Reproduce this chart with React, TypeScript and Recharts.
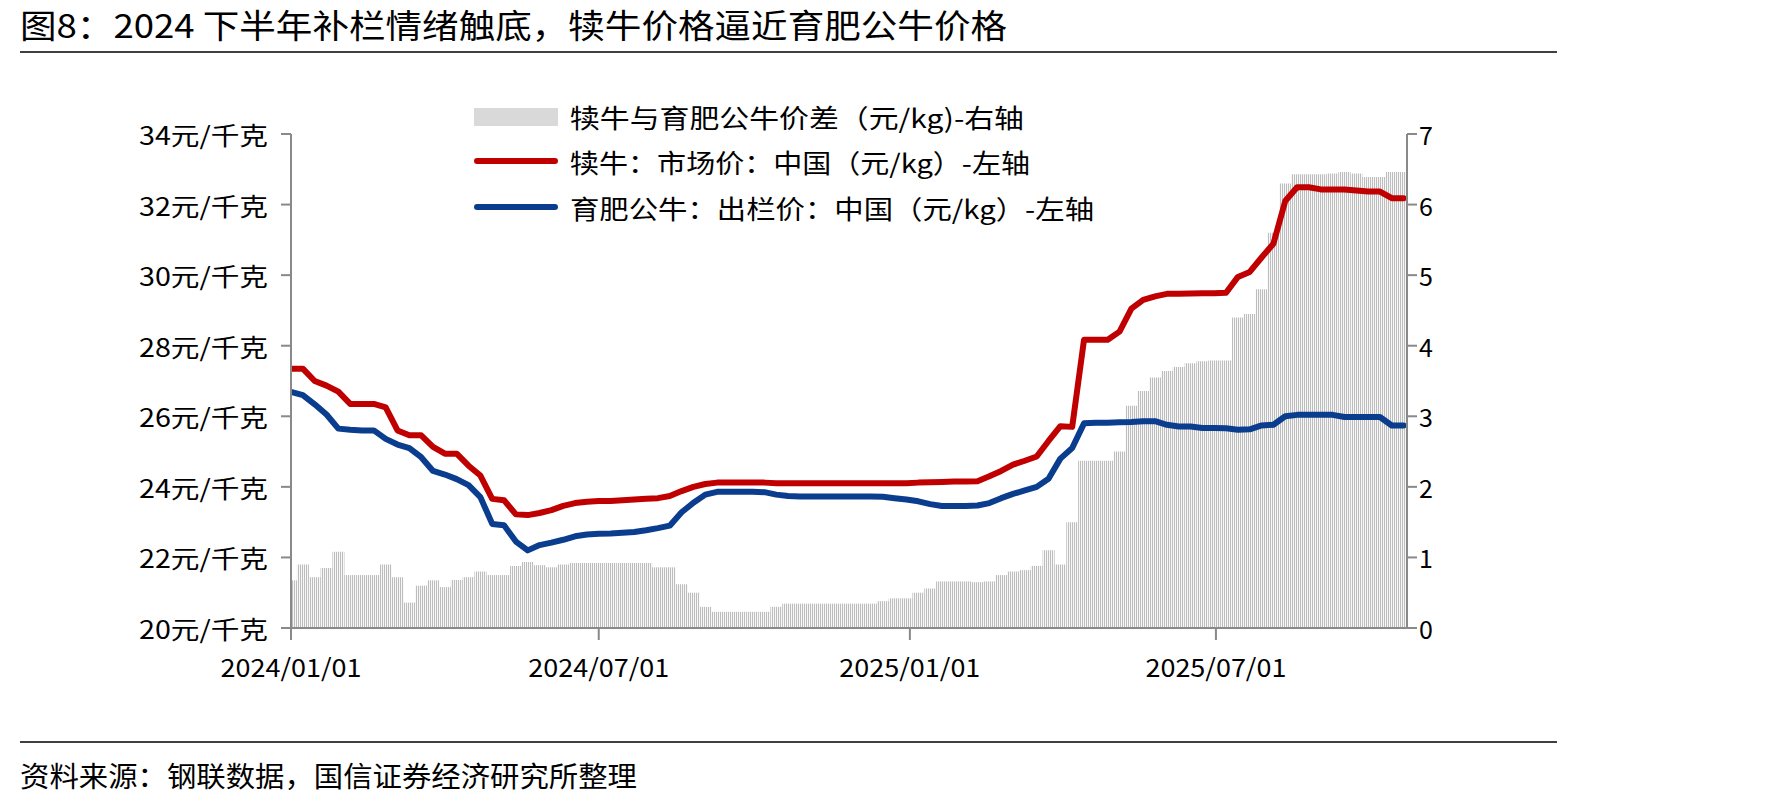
import React from 'react';
import { ComposedChart, Bar, Line, XAxis, YAxis } from 'recharts';

// ---- data (weekly readings, day offset from 2024/01/01) ----
const weekIndex: number[] = Array.from({ length: 95 }, (_, i) => i);
const dayOffsets: number[] = weekIndex.map((i) => i * 7);

const calfPrice: number[] = [
  27.35, 27.35, 27.0, 26.87, 26.7, 26.35, 26.35, 26.35, 26.25, 25.6,
  25.46, 25.46, 25.13, 24.94, 24.94, 24.6, 24.32, 23.66, 23.62, 23.22,
  23.2, 23.26, 23.34, 23.46, 23.54, 23.58, 23.6, 23.6, 23.62, 23.64,
  23.66, 23.68, 23.74, 23.88, 24.0, 24.08, 24.12, 24.12, 24.12, 24.12,
  24.12, 24.1, 24.1, 24.1, 24.1, 24.1, 24.1, 24.1, 24.1, 24.1,
  24.1, 24.1, 24.1, 24.12, 24.13, 24.14, 24.15, 24.15, 24.16, 24.3,
  24.45, 24.63, 24.74, 24.86, 25.3, 25.72, 25.7, 28.17, 28.17, 28.17,
  28.4, 29.05, 29.3, 29.4, 29.47, 29.47, 29.48, 29.49, 29.49, 29.5,
  29.95, 30.09, 30.5, 30.89, 32.1, 32.49, 32.49, 32.43, 32.43, 32.43,
  32.4, 32.37, 32.37, 32.18, 32.18,
];

const bullPrice: number[] = [
  26.69, 26.6, 26.34, 26.05, 25.65, 25.62, 25.6, 25.6, 25.36, 25.2,
  25.1, 24.84, 24.45, 24.35, 24.22, 24.05, 23.71, 22.95, 22.91, 22.45,
  22.2, 22.35, 22.42, 22.5, 22.6, 22.65, 22.67, 22.68, 22.7, 22.72,
  22.77, 22.83, 22.9, 23.28, 23.55, 23.78, 23.86, 23.86, 23.86, 23.86,
  23.85, 23.78, 23.74, 23.73, 23.73, 23.73, 23.73, 23.73, 23.73, 23.73,
  23.72, 23.68, 23.64, 23.59, 23.51, 23.46, 23.46, 23.46, 23.47, 23.54,
  23.68, 23.8, 23.9, 24.0, 24.23, 24.8, 25.1, 25.8, 25.82, 25.82,
  25.83, 25.84, 25.86, 25.86, 25.76, 25.71, 25.71, 25.67, 25.67, 25.66,
  25.62, 25.63, 25.74, 25.76, 26.0, 26.04, 26.04, 26.04, 26.04, 25.98,
  25.98, 25.98, 25.98, 25.74, 25.74,
];

const priceGap: number[] = [
  0.675, 0.9, 0.72, 0.85, 1.08, 0.75, 0.75, 0.75, 0.9, 0.72,
  0.36, 0.6, 0.675, 0.58, 0.68, 0.72, 0.8, 0.75, 0.75, 0.88,
  0.935, 0.89, 0.86, 0.9, 0.92, 0.92, 0.92, 0.92, 0.92, 0.92,
  0.92, 0.86, 0.86, 0.62, 0.5, 0.3, 0.23, 0.23, 0.23, 0.23,
  0.23, 0.3, 0.345, 0.345, 0.345, 0.345, 0.345, 0.345, 0.345, 0.345,
  0.38, 0.42, 0.42, 0.5, 0.56, 0.66, 0.66, 0.66, 0.65, 0.66,
  0.75, 0.8, 0.82, 0.88, 1.1, 0.9, 1.5, 2.37, 2.37, 2.37,
  2.5, 3.15, 3.36, 3.55, 3.64, 3.7, 3.75, 3.78, 3.79, 3.79,
  4.4, 4.45, 4.8, 5.6, 6.3, 6.43, 6.43, 6.43, 6.44, 6.46,
  6.44, 6.39, 6.39, 6.46, 6.46,
];

const xTickDays: number[] = [0, 182, 366, 547];
const xTickLabels: string[] = ['2024/01/01', '2024/07/01', '2025/01/01', '2025/07/01'];
const leftTicks: number[] = [20, 22, 24, 26, 28, 30, 32, 34];
const rightTicks: number[] = [0, 1, 2, 3, 4, 5, 6, 7];

const titleText = '图8：2024 下半年补栏情绪触底，犊牛价格逼近育肥公牛价格';
const sourceText = '资料来源：钢联数据，国信证券经济研究所整理';
const legendGap = '犊牛与育肥公牛价差（元/kg)-右轴';
const legendCalf = '犊牛：市场价：中国（元/kg）-左轴';
const legendBull = '育肥公牛：出栏价：中国（元/kg）-左轴';

const data = dayOffsets.map((d, i) => ({
  day: d,
  gap: priceGap[i],
  calf: calfPrice[i],
  bull: bullPrice[i],
}));

// ---- layout ----
const W = 1771;
const H = 810;
const PLOT_LEFT = 291;
const PLOT_RIGHT = 1407;
const PLOT_TOP = 134;
const PLOT_BOTTOM = 628;
const FONT = '"Noto Sans CJK SC", "Noto Sans", sans-serif';
const AXIS = '#898989';
const RED = '#C00000';
const BLUE = '#0B3D8F';

const XTick = (props: any) => {
  const idx = xTickDays.indexOf(props.payload.value);
  const label = idx >= 0 ? xTickLabels[idx] : '';
  return (
    <text x={props.x} y={PLOT_BOTTOM + 38} textAnchor="middle" dominantBaseline="central"
      fontSize={25} fontFamily={FONT} fill="#000" textLength={141} lengthAdjust="spacingAndGlyphs">
      {label}
    </text>
  );
};

const LeftTick = (props: any) => (
  <text x={268} y={props.y} textAnchor="end" dominantBaseline="central"
    fontSize={25} fontFamily={FONT} fill="#000" textLength={129} lengthAdjust="spacingAndGlyphs">
    {`${props.payload.value}元/千克`}
  </text>
);

const RightTick = (props: any) => (
  <text x={1419} y={props.y} textAnchor="start" dominantBaseline="central"
    fontSize={25} fontFamily={FONT} fill="#000">
    {props.payload.value}
  </text>
);

export default function App() {
  return (
    <div style={{ position: 'absolute', left: 0, top: 0, width: W, height: H, background: '#fff', fontFamily: FONT }}>
      <div style={{ position: 'absolute', left: 0, top: 0 }}>
        <ComposedChart width={W} height={H} data={data} barCategoryGap={0} barGap={0}
          margin={{ top: PLOT_TOP, right: 0, bottom: 0, left: 0 }}>
          <defs>
            <pattern id="gapStripes" patternUnits="userSpaceOnUse" width="2" height="8">
              <rect x="0" y="0" width="1" height="8" fill="#bdbdbd" />
              <rect x="1" y="0" width="1" height="8" fill="#f7f7f7" />
            </pattern>
          </defs>
          <XAxis dataKey="day" type="number" domain={[0, 660]} ticks={xTickDays} interval={0}
            allowDataOverflow height={H - PLOT_BOTTOM} tickSize={12}
            axisLine={{ stroke: AXIS, strokeWidth: 2 }} tickLine={{ stroke: AXIS, strokeWidth: 2 }}
            tick={<XTick />} />
          <YAxis yAxisId="left" orientation="left" width={PLOT_LEFT} domain={[20, 34]} ticks={leftTicks}
            interval={0} allowDataOverflow tickSize={10}
            axisLine={{ stroke: AXIS, strokeWidth: 2 }} tickLine={{ stroke: AXIS, strokeWidth: 2 }}
            tick={<LeftTick />} />
          <YAxis yAxisId="right" orientation="right" width={W - PLOT_RIGHT} domain={[0, 7]} ticks={rightTicks}
            interval={0} allowDataOverflow tickSize={10}
            axisLine={{ stroke: AXIS, strokeWidth: 2 }} tickLine={{ stroke: AXIS, strokeWidth: 2 }}
            tick={<RightTick />} />
          <Bar yAxisId="right" dataKey="gap" fill="url(#gapStripes)" isAnimationActive={false} />
          <Line yAxisId="left" dataKey="calf" type="linear" stroke={RED} strokeWidth={6} dot={false}
            strokeLinejoin="round" strokeLinecap="round" isAnimationActive={false} />
          <Line yAxisId="left" dataKey="bull" type="linear" stroke={BLUE} strokeWidth={6} dot={false}
            strokeLinejoin="round" strokeLinecap="round" isAnimationActive={false} />
        </ComposedChart>
      </div>
      <svg width={W} height={H} style={{ position: 'absolute', left: 0, top: 0, pointerEvents: 'none' }}>
        <text x={20} y={24} dominantBaseline="central" fontSize={33} fontFamily={FONT} fill="#000"
          textLength={987} lengthAdjust="spacingAndGlyphs">{titleText}</text>
        <line x1={20} x2={1557} y1={52} y2={52} stroke="#000" strokeWidth={1.5} />
        <rect x={474} y={108} width={84} height={18} fill="#d9d9d9" />
        <text x={570} y={116} dominantBaseline="central" fontSize={26} fontFamily={FONT} fill="#000"
          textLength={454} lengthAdjust="spacingAndGlyphs">{legendGap}</text>
        <line x1={477} x2={555} y1={161} y2={161} stroke={RED} strokeWidth={6} strokeLinecap="round" />
        <text x={570} y={161} dominantBaseline="central" fontSize={26} fontFamily={FONT} fill="#000"
          textLength={460} lengthAdjust="spacingAndGlyphs">{legendCalf}</text>
        <line x1={477} x2={555} y1={207} y2={207} stroke={BLUE} strokeWidth={6} strokeLinecap="round" />
        <text x={570} y={207} dominantBaseline="central" fontSize={26} fontFamily={FONT} fill="#000"
          textLength={524} lengthAdjust="spacingAndGlyphs">{legendBull}</text>
        <line x1={20} x2={1557} y1={742} y2={742} stroke="#000" strokeWidth={1.5} />
        <text x={20} y={775} dominantBaseline="central" fontSize={28} fontFamily={FONT} fill="#000"
          textLength={617} lengthAdjust="spacingAndGlyphs">{sourceText}</text>
      </svg>
    </div>
  );
}
